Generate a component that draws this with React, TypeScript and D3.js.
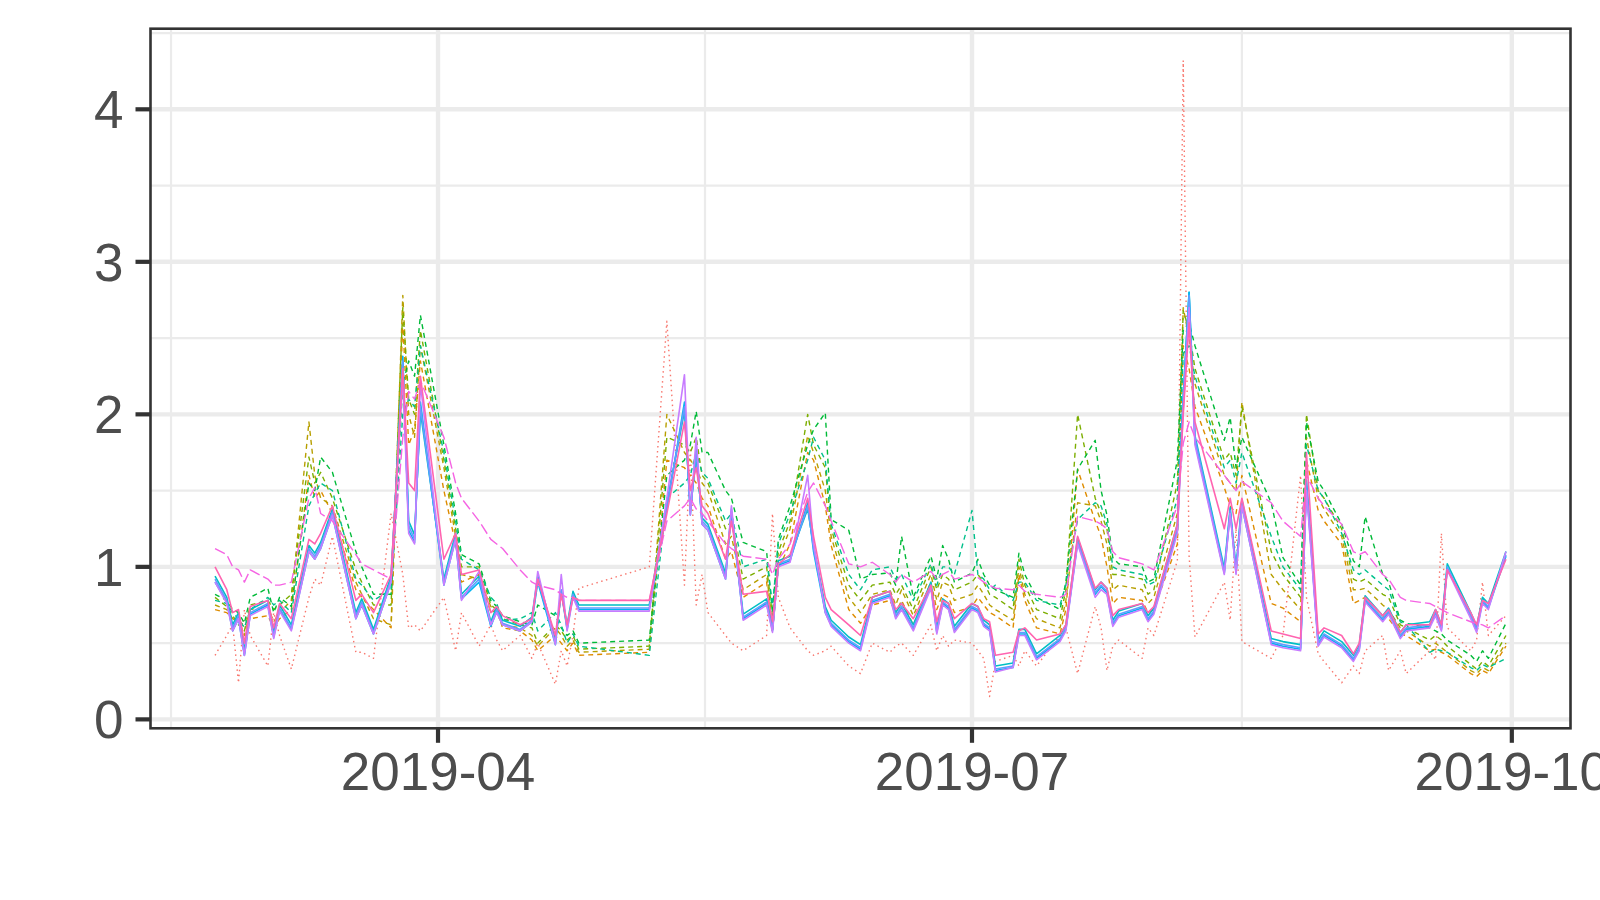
import React from 'react';
import * as d3 from 'd3';

// ---- data ----
const DATES = [
  '02-22','02-24','02-25','02-26','02-27','02-28','03-03','03-04','03-05','03-07',
  '03-10','03-11','03-12','03-14','03-18','03-19','03-21','03-24','03-26','03-27',
  '03-28','03-29','04-02','04-04','04-05','04-08','04-10','04-11','04-12','04-15',
  '04-17','04-18','04-21','04-22','04-23','04-24','04-25','05-07','05-10','05-13',
  '05-14','05-15','05-16','05-17','05-20','05-21','05-23','05-27','05-28','05-29',
  '05-31','06-03','06-04','06-06','06-07','06-10','06-12','06-14','06-17','06-18',
  '06-19','06-21','06-24','06-25','06-26','06-27','06-28','07-01','07-02','07-03',
  '07-04','07-05','07-08','07-09','07-10','07-12','07-16','07-17','07-19','07-22',
  '07-23','07-24','07-25','07-26','07-30','07-31','08-01','08-05','08-06','08-07',
  '08-08','08-13','08-14','08-15','08-16','08-21','08-23','08-26','08-27','08-29',
  '08-30','09-02','09-04','09-05','09-06','09-09','09-10','09-12','09-13','09-17',
  '09-18','09-19','09-20','09-24','09-25','09-26','09-27','09-30',
];

const seriesR = [
  .42,.55,.62,.24,.72,.55,.35,.70,.55,.33,
  .80,.92,.88,1.20,.44,.44,.40,1.35,.95,.60,
  .62,.58,.80,.45,.70,.48,.62,.52,.45,.55,
  .40,.50,.23,.45,.35,.55,.86,1.00,2.61,.88,
  1.78,.75,.95,.70,.55,.50,.45,.55,1.35,.80,
  .60,.45,.42,.45,.48,.35,.30,.50,.44,.48,
  .50,.42,.62,.45,.55,.48,.52,.50,.45,.40,
  .15,.38,.42,.35,.45,.35,.55,.60,.30,.74,
  .60,.32,.48,.52,.40,.60,.55,1.04,4.32,1.07,
  .54,.90,.65,1.25,.51,.40,.55,1.60,.80,.43,
  .38,.24,.35,.30,.45,.55,.32,.45,.30,.45,
  .39,1.22,.60,.45,.52,.90,.55,.68,
];
const seriesO = [
  .72,.70,.66,.64,.62,.66,.68,.60,.66,.72,
  1.60,1.45,1.50,1.35,.85,.80,.72,.60,2.60,1.80,
  1.90,2.35,1.50,1.15,.90,.95,.70,.72,.60,.58,
  .52,.45,.55,.50,.45,.50,.42,.44,1.70,1.65,
  1.60,1.55,1.45,1.40,1.05,1.10,.80,.90,.57,.99,
  1.15,1.75,1.70,1.40,1.14,.72,.63,.75,.78,.70,
  .78,.62,.90,.72,.82,.80,.70,.74,.80,.75,
  .70,.68,.60,.95,.78,.60,.56,.72,1.64,1.30,
  1.20,1.00,.76,.80,.78,.70,.72,1.15,2.45,2.30,
  2.05,1.52,1.40,1.35,1.60,.76,.73,.64,1.70,1.37,
  1.30,1.15,.76,.78,.80,.68,.66,.56,.55,.45,
  .46,.44,.42,.30,.28,.32,.30,.48,
];
const seriesY = [
  .75,.72,.66,.66,.55,.72,.74,.64,.70,.78,
  1.95,1.60,1.45,1.40,.90,.82,.66,.62,2.78,2.00,
  1.85,2.45,1.65,1.20,.95,.92,.74,.70,.62,.60,
  .55,.48,.60,.55,.48,.52,.44,.46,2.00,1.75,
  1.70,1.65,1.55,1.50,1.15,1.20,.85,.95,.62,1.05,
  1.25,1.86,1.75,1.50,1.20,.80,.70,.82,.85,.75,
  .85,.68,.95,.78,.90,.88,.78,.82,.88,.82,
  .75,.72,.65,1.00,.82,.66,.60,.78,1.42,1.40,
  1.30,1.15,.85,.88,.85,.76,.80,1.35,2.70,2.50,
  2.20,1.60,1.55,1.50,2.08,.95,.85,.72,1.85,1.45,
  1.38,1.20,.85,.85,.86,.75,.72,.60,.58,.48,
  .50,.47,.44,.32,.30,.34,.32,.50,
];
const seriesL = [
  .80,.74,.68,.62,.58,.75,.78,.72,.75,.82,
  1.72,1.55,1.62,1.45,.98,.90,.75,.75,2.70,2.10,
  2.00,2.55,1.70,1.25,1.00,1.00,.75,.72,.66,.62,
  .60,.50,.62,.58,.52,.55,.46,.48,1.85,1.80,
  1.75,1.85,1.60,1.55,1.25,1.30,.92,1.00,.68,1.10,
  1.30,2.00,1.80,1.65,1.25,.88,.78,.88,.90,.82,
  .88,.72,1.00,.85,.95,.92,.85,.90,.95,.90,
  .82,.80,.72,1.05,.88,.72,.66,.85,2.00,1.45,
  1.35,1.25,.95,.95,.92,.82,.85,1.55,2.68,2.55,
  2.30,1.70,1.75,1.60,2.05,1.10,.95,.80,2.00,1.50,
  1.45,1.25,.92,.90,.92,.82,.80,.62,.60,.52,
  .55,.52,.48,.36,.33,.38,.35,.55,
];
const seriesG = [
  .82,.78,.72,.70,.63,.80,.86,.70,.80,.74,
  1.55,1.50,1.72,1.62,1.10,1.00,.82,.82,2.20,2.35,
  2.25,2.65,1.80,1.35,1.08,1.02,.78,.74,.68,.64,
  .62,.75,.68,.60,.55,.58,.50,.52,1.60,1.70,
  1.80,2.02,1.75,1.75,1.50,1.45,1.16,1.10,.70,1.18,
  1.40,1.80,1.90,2.01,1.31,1.24,.92,.95,.96,.88,
  1.20,.80,1.07,.92,1.14,1.05,.90,.96,1.05,.95,
  .88,.85,.80,1.09,.95,.80,.72,.90,1.64,1.83,
  1.50,1.34,1.06,1.02,1.00,.90,.92,1.70,2.55,2.60,
  2.45,1.83,1.98,1.65,1.85,1.42,1.06,.88,1.95,1.56,
  1.50,1.28,1.04,1.00,1.33,.95,.90,.65,.63,.60,
  .58,.56,.52,.42,.38,.45,.40,.63,
];
const seriesT = [
  .78,.76,.70,.66,.60,.72,.80,.75,.78,.70,
  1.40,1.48,1.55,1.50,.92,.88,.78,.85,2.00,2.10,
  2.05,2.45,1.75,1.30,1.05,.98,.80,.76,.65,.66,
  .70,.58,.70,.62,.50,.56,.48,.42,1.45,1.55,
  1.60,1.75,1.62,1.58,1.30,1.35,1.00,1.05,.75,1.15,
  1.35,1.70,1.85,1.70,1.28,.95,.85,.98,1.00,.92,
  .95,.78,1.02,.88,1.00,1.00,.95,1.37,.95,.92,
  .85,.88,.78,.90,.90,.78,.75,.88,1.31,1.42,
  1.40,1.28,1.00,.98,.95,.88,.90,1.45,2.40,2.45,
  2.25,1.65,1.70,1.55,1.75,1.20,1.00,.85,1.80,1.50,
  1.45,1.22,.98,.95,.98,.88,.85,.64,.62,.44,
  .46,.45,.44,.34,.32,.36,.34,.40,
];
const seriesC = [
  .94,.80,.62,.70,.45,.72,.78,.57,.75,.62,
  1.14,1.09,1.16,1.38,.70,.79,.59,.94,2.32,1.30,
  1.21,2.02,.92,1.22,.82,.94,.64,.74,.65,.61,
  .67,.94,.52,.84,.62,.84,.75,.75,1.42,2.02,
  1.38,1.72,1.32,1.28,.96,1.36,.69,.79,.61,1.04,
  1.07,1.38,1.14,.74,.65,.54,.49,.80,.84,.70,
  .76,.62,.90,.60,.79,.76,.61,.76,.74,.65,
  .62,.35,.37,.59,.59,.43,.55,.62,1.19,.85,
  .90,.86,.65,.71,.76,.68,.73,1.28,2.12,2.80,
  1.86,.99,1.39,.99,1.44,.53,.51,.49,1.57,.52,
  .58,.51,.42,.49,.81,.68,.73,.57,.62,.64,
  .72,.62,1.02,.70,.61,.80,.76,1.10,
];
const seriesS = [
  .90,.77,.58,.66,.42,.69,.75,.54,.72,.59,
  1.10,1.05,1.12,1.34,.66,.75,.56,.90,2.38,1.24,
  1.16,2.08,.88,1.18,.79,.90,.61,.71,.62,.58,
  .64,.90,.49,.84,.59,.81,.72,.72,1.38,2.08,
  1.34,1.78,1.28,1.24,.92,1.36,.66,.76,.58,1.01,
  1.04,1.42,1.10,.70,.62,.51,.46,.77,.81,.67,
  .73,.59,.87,.57,.76,.73,.58,.73,.71,.62,
  .59,.32,.34,.56,.56,.40,.52,.59,1.16,.82,
  .87,.83,.62,.68,.73,.65,.70,1.24,2.08,2.80,
  1.82,.96,1.36,.96,1.40,.50,.48,.46,1.53,.49,
  .55,.48,.39,.46,.78,.65,.70,.54,.59,.61,
  .69,.59,.99,.67,.58,.77,.73,1.07,
];
const seriesB = [
  .92,.78,.60,.68,.43,.70,.76,.55,.73,.60,
  1.12,1.07,1.14,1.36,.68,.77,.57,.92,2.35,1.27,
  1.18,2.05,.90,1.20,.80,.92,.62,.72,.63,.59,
  .65,.92,.50,.85,.60,.82,.73,.73,1.40,2.05,
  1.36,1.75,1.30,1.26,.94,1.38,.67,.77,.59,1.02,
  1.05,1.40,1.12,.72,.63,.52,.47,.78,.82,.68,
  .74,.60,.88,.58,.77,.74,.59,.74,.72,.63,
  .60,.33,.35,.57,.57,.41,.53,.60,1.17,.83,
  .88,.84,.63,.69,.74,.66,.71,1.26,2.10,2.78,
  1.84,.97,1.37,.97,1.42,.51,.49,.47,1.55,.50,
  .56,.49,.40,.47,.79,.66,.71,.55,.60,.62,
  .70,.60,1.00,.68,.59,.78,.74,1.08,
];
const seriesP = [
  .90,.76,.58,.66,.42,.68,.74,.53,.71,.58,
  1.10,1.05,1.12,1.34,.66,.75,.56,.90,2.25,1.22,
  1.15,2.20,.88,1.18,.78,.97,.62,.70,.62,.58,
  .64,.97,.49,.95,.58,.80,.71,.71,1.45,2.26,
  1.34,1.85,1.28,1.24,.92,1.40,.65,.75,.57,1.00,
  1.03,1.60,1.15,.70,.61,.50,.45,.76,.80,.66,
  .72,.58,.86,.56,.75,.72,.57,.72,.70,.61,
  .58,.31,.34,.55,.55,.39,.51,.58,1.15,.80,
  .85,.82,.61,.67,.72,.64,.69,1.22,2.02,2.70,
  1.80,.95,1.35,.95,1.40,.49,.47,.45,1.50,.48,
  .54,.47,.38,.45,.77,.64,.69,.53,.58,.60,
  .68,.58,.98,.66,.57,.76,.72,1.10,
];
const seriesM = [
  1.12,1.08,1.00,.98,.90,.98,.92,.88,.88,.90,
  1.45,1.52,1.35,1.30,1.08,1.02,.98,.92,1.85,2.15,
  2.10,2.22,1.85,1.55,1.45,1.30,1.18,1.15,1.12,.98,
  .90,.88,.85,.82,.80,.80,.78,.78,1.30,1.40,
  1.45,1.38,1.35,1.30,1.15,1.12,1.07,1.05,.95,1.05,
  1.15,1.49,1.55,1.40,1.30,1.02,1.00,1.03,.95,.90,
  .95,.90,.97,.92,.95,.97,.92,.95,.93,.90,
  .88,.86,.85,.88,.84,.82,.80,.82,1.33,1.30,
  1.28,1.25,1.10,1.06,1.02,1.00,.98,1.40,1.81,1.95,
  1.85,1.60,1.55,1.50,1.56,1.42,1.30,1.20,1.60,1.45,
  1.40,1.28,1.10,1.08,1.10,.95,.92,.80,.78,.76,
  .74,.72,.70,.64,.63,.62,.60,.68,
];
const seriesK = [
  1.00,.85,.70,.72,.50,.74,.78,.60,.76,.66,
  1.18,1.15,1.22,1.40,.78,.82,.70,.95,2.30,1.55,
  1.50,2.25,1.05,1.22,.95,.98,.70,.74,.68,.62,
  .66,.92,.55,.82,.62,.80,.78,.78,1.35,1.95,
  1.50,1.65,1.40,1.35,1.05,1.30,.82,.84,.64,1.02,
  1.08,1.45,1.20,.80,.72,.62,.55,.80,.84,.72,
  .76,.66,.88,.64,.78,.76,.66,.76,.74,.66,
  .64,.42,.44,.58,.60,.52,.56,.62,1.20,.86,
  .90,.86,.68,.72,.76,.70,.74,1.28,2.00,2.60,
  1.95,1.25,1.45,1.25,1.45,.58,.56,.53,1.75,.56,
  .60,.55,.43,.50,.80,.68,.72,.57,.62,.62,
  .72,.62,.98,.70,.62,.78,.76,1.05,
];

const Y_TICKS = [0, 1, 2, 3, 4];
const Y_MINOR = [0.5, 1.5, 2.5, 3.5, 4.5];
const X_TICKS = ['2019-04-01', '2019-07-01', '2019-10-01'];
const X_TICK_LABELS = ['2019-04', '2019-07', '2019-10'];
const X_MINOR = ['2019-02-14T12:00', '2019-05-16T12:00', '2019-08-16T00:00'];

// ---- styles ----
const SERIES = [
  { values: seriesR, color: '#F8766D', dash: '1.5,3.5', w: 1.4 },
  { values: seriesO, color: '#DE8C00', dash: '5,4', w: 1.4 },
  { values: seriesY, color: '#B79F00', dash: '5,4', w: 1.4 },
  { values: seriesL, color: '#7CAE00', dash: '5,4', w: 1.4 },
  { values: seriesG, color: '#00BA38', dash: '5,4', w: 1.4 },
  { values: seriesT, color: '#00C08B', dash: '5,4', w: 1.4 },
  { values: seriesC, color: '#00BFC4', dash: null, w: 1.6 },
  { values: seriesS, color: '#00B4F0', dash: null, w: 1.6 },
  { values: seriesB, color: '#619CFF', dash: null, w: 1.6 },
  { values: seriesP, color: '#C77CFF', dash: null, w: 1.6 },
  { values: seriesM, color: '#F564E3', dash: '11,4', w: 1.4 },
  { values: seriesK, color: '#FF64B0', dash: null, w: 1.6 },
];

const P = { left: 150.5, right: 1570.5, top: 28.7, bottom: 728.3 };
const FONT = '"Liberation Sans", Arial, Helvetica, sans-serif';
const FS = 53;
const GRID = '#EBEBEB';
const INK = '#333333';
const TXT = '#4D4D4D';

export default function App() {
  const parse = d3.isoParse;
  const xs = DATES.map((d) => parse('2019-' + d + 'T00:00') as Date);
  const [x0, x1] = d3.extent(xs) as [Date, Date];
  const xPad = (+x1 - +x0) * 0.05;
  const x = d3
    .scaleTime()
    .domain([new Date(+x0 - xPad), new Date(+x1 + xPad)])
    .range([P.left, P.right]);

  const all = SERIES.flatMap((s) => s.values);
  const [lo, hi] = d3.extent(all) as [number, number];
  const yPad = (hi - lo) * 0.05;
  const y = d3.scaleLinear().domain([lo - yPad, hi + yPad]).range([P.bottom, P.top]);

  const majorX = X_TICKS.map((d) => parse(d + 'T00:00') as Date);
  const minorX = X_MINOR.map((d) => parse(d) as Date);

  const line = d3
    .line<number>()
    .x((_, i) => x(xs[i]))
    .y((v) => y(v));

  return (
    <svg
      width={1600}
      height={900}
      style={{ position: 'absolute', left: 0, top: 0, background: '#fff' }}
      fontFamily={FONT}
    >
      <rect x={0} y={0} width={1600} height={900} fill="#fff" />
      <clipPath id="panel">
        <rect x={P.left} y={P.top} width={P.right - P.left} height={P.bottom - P.top} />
      </clipPath>
      <g clipPath="url(#panel)">
        {Y_MINOR.map((v) => (
          <line key={'my' + v} x1={P.left} x2={P.right} y1={y(v)} y2={y(v)} stroke={GRID} strokeWidth={2.2} />
        ))}
        {minorX.map((d, i) => (
          <line key={'mx' + i} x1={x(d)} x2={x(d)} y1={P.top} y2={P.bottom} stroke={GRID} strokeWidth={2.2} />
        ))}
        {Y_TICKS.map((v) => (
          <line key={'gy' + v} x1={P.left} x2={P.right} y1={y(v)} y2={y(v)} stroke={GRID} strokeWidth={4.4} />
        ))}
        {majorX.map((d, i) => (
          <line key={'gx' + i} x1={x(d)} x2={x(d)} y1={P.top} y2={P.bottom} stroke={GRID} strokeWidth={4.4} />
        ))}
        {SERIES.map((s, i) => (
          <path
            key={'s' + i}
            d={line(s.values) || ''}
            fill="none"
            stroke={s.color}
            strokeWidth={s.w}
            strokeDasharray={s.dash || undefined}
            strokeLinejoin="round"
          />
        ))}
      </g>
      <rect
        x={P.left}
        y={P.top}
        width={P.right - P.left}
        height={P.bottom - P.top}
        fill="none"
        stroke={INK}
        strokeWidth={2.6}
      />
      {Y_TICKS.map((v) => (
        <g key={'ty' + v}>
          <line x1={P.left - 15} x2={P.left} y1={y(v)} y2={y(v)} stroke={INK} strokeWidth={4.2} />
          <text x={123.5} y={y(v) + 0.358 * FS} textAnchor="end" fontSize={FS} fill={TXT}>
            {v}
          </text>
        </g>
      ))}
      {majorX.map((d, i) => (
        <g key={'tx' + i}>
          <line x1={x(d)} x2={x(d)} y1={P.bottom} y2={P.bottom + 14.5} stroke={INK} strokeWidth={4.2} />
          <text x={x(d)} y={790} textAnchor="middle" fontSize={FS} fill={TXT}>
            {X_TICK_LABELS[i]}
          </text>
        </g>
      ))}
    </svg>
  );
}
